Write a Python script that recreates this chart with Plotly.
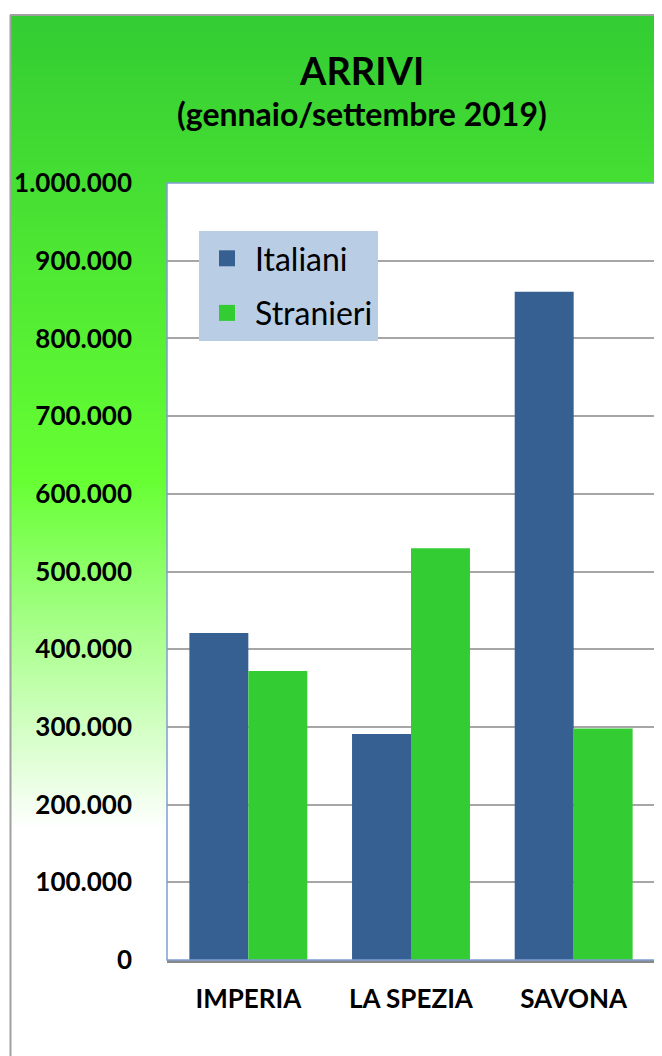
import plotly.graph_objects as go

categories = ["IMPERIA", "LA SPEZIA", "SAVONA"]
italiani = [421000, 291000, 860000]
stranieri = [372000, 530000, 298000]
series_names = ["Italiani", "Stranieri"]
series_colors = ["#376092", "#33CC33"]
title_main = "ARRIVI"
title_sub = "(gennaio/settembre 2019)"

# page body has an 8px margin, so the figure is shifted by 8px
OFF = 8
RW, RH = 662, 1056                      # reference canvas
PL, PR, PT, PB = 167, 655, 183, 960     # plot area in reference pixels
W, H = RW - OFF, RH - OFF
PW = PR - PL
PH = PB - PT


def px(x):
    return (x - PL) / PW


def py(y):
    return (PB - y) / PH


fig = go.Figure()
for name, vals, col, grp in zip(series_names, [italiani, stranieri], series_colors, ["a", "b"]):
    fig.add_trace(go.Bar(x=categories, y=vals, name=name, marker=dict(color=col, line=dict(width=0)),
                         legendgroup=grp, showlegend=False))
    # legend entry with a larger square swatch
    fig.add_trace(go.Scatter(x=[None], y=[None], mode="markers", name=name, legendgroup=grp,
                             marker=dict(symbol="square", size=20, color=col, line=dict(width=0)),
                             hoverinfo="skip"))

def lerp(c1, c2, t):
    return tuple(round(a + (b - a) * t) for a, b in zip(c1, c2))

stops = [(16, (51, 204, 51)), (480, (102, 255, 51)), (830, (255, 255, 255))]
shapes = []
step = 3
y = 16
while y < 830:
    for (y0, c0), (y1, c1) in zip(stops[:-1], stops[1:]):
        if y0 <= y < y1:
            c = lerp(c0, c1, (y + step / 2 - y0) / (y1 - y0))
            break
    shapes.append(dict(type="rect", xref="paper", yref="paper", layer="below",
                       x0=px(11), x1=px(RW + 2), y0=py(y + step + 0.5), y1=py(y),
                       fillcolor="rgb(%d,%d,%d)" % c, line=dict(width=0)))
    y += step
shapes.append(dict(type="rect", xref="paper", yref="paper", layer="below",
                   x0=0, x1=1, y0=0, y1=1, fillcolor="white", line=dict(width=0)))
shapes.append(dict(type="rect", xref="paper", yref="paper", layer="above",
                   x0=0, x1=1, y0=0, y1=1, fillcolor="rgba(0,0,0,0)",
                   line=dict(color="#7F9FD3", width=1.5)))
shapes.append(dict(type="line", xref="paper", yref="paper", layer="above",
                   x0=px(10), x1=px(RW + 2), y0=py(15), y1=py(15),
                   line=dict(color="#A0A0A0", width=2)))
shapes.append(dict(type="line", xref="paper", yref="paper", layer="above",
                   x0=px(10.5), x1=px(10.5), y0=py(15), y1=py(RH + 2),
                   line=dict(color="#A0A0A0", width=2)))

annotations = [
    dict(text="<b>%s</b>" % title_main, x=px(361), y=py(70), xref="paper", yref="paper",
         showarrow=False, font=dict(family="Lato", size=38, color="black"), xanchor="center", yanchor="middle"),
    dict(text="<b>%s</b>" % title_sub, x=px(362), y=py(114), xref="paper", yref="paper",
         showarrow=False, font=dict(family="Lato", size=32, color="black"), xanchor="center", yanchor="middle"),
]

fig.update_layout(
    width=W, height=H,
    margin=dict(l=PL - OFF, r=RW - PR, t=PT - OFF, b=RH - PB, autoexpand=False),
    paper_bgcolor="white", plot_bgcolor="white",
    barmode="group", bargap=0.275, bargroupgap=0,
    separators=",.",
    shapes=shapes, annotations=annotations,
    showlegend=True,
    legend=dict(x=px(199), y=py(231), xanchor="left", yanchor="top",
                bgcolor="#B9CDE5", borderwidth=0,
                font=dict(family="Lato", size=32, color="black"),
                traceorder="grouped", tracegroupgap=10, itemwidth=46,
                itemsizing="trace"),
    font=dict(family="Lato", color="black"),
)
fig.update_yaxes(range=[0, 1000000], dtick=100000, tickformat=",d",
                 showgrid=True, gridcolor="#A6A6A6", gridwidth=2,
                 zeroline=False, showline=False,
                 tickfont=dict(family="Lato", size=26, color="black", weight="bold"),
                 ticklabelstandoff=34)
fig.update_xaxes(showline=True, linecolor="#888888", linewidth=3,
                 tickfont=dict(family="Lato", size=26, color="black", weight="bold"),
                 ticklabelstandoff=14)

fig.write_html("out.html")
